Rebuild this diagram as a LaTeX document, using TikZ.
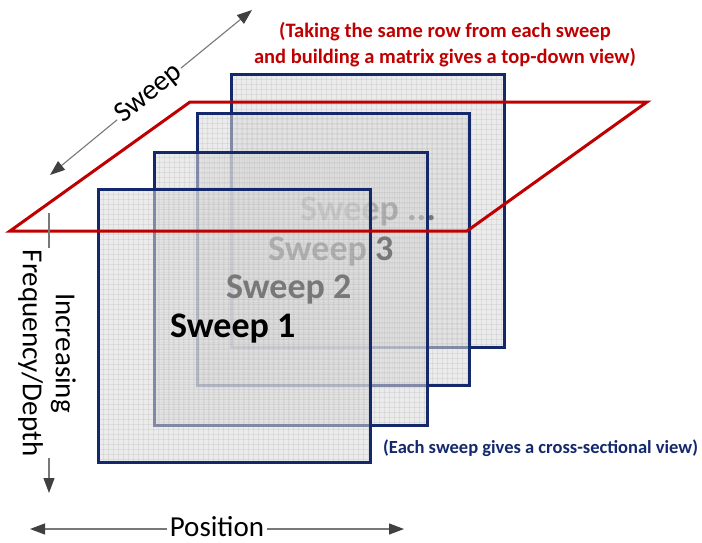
\documentclass[tikz,border=0pt]{standalone}
\usepackage{fontspec}
\setmainfont{Carlito}
\usetikzlibrary{arrows.meta}

\definecolor{navy}{RGB}{20,40,108}
\definecolor{planered}{RGB}{192,0,0}
\definecolor{sheetgray}{RGB}{220,220,220}
\definecolor{axisgray}{RGB}{120,120,120}
\definecolor{headgray}{RGB}{64,64,64}

\tikzset{
  sheetfill/.style={fill=sheetgray, fill opacity=0.55},
  gridline/.style={draw=gray, line width=0.35pt, opacity=0.12},
  sheetedge/.style={draw=navy, line width=3pt},
  sheetlabel/.style={anchor=base west, inner sep=0pt, text=black,
    font=\fontsize{36}{40}\selectfont\bfseries},
  planeedge/.style={draw=planered, line width=3pt, line join=miter},
  axislabel/.style={inner sep=2pt, text=black, font=\fontsize{29}{33}\selectfont},
  axisline/.style={draw=axisgray, line width=1.1pt},
  axisarrow/.style={axisline, -{Triangle[length=15pt,width=11pt,color=headgray]}},
  notered/.style={text=planered, align=center, inner sep=0pt,
    font=\fontsize{20.5}{26}\selectfont\bfseries},
  noteblue/.style={text=navy, inner sep=0pt, anchor=base west,
    font=\fontsize{18.5}{22}\selectfont\bfseries}
}

% one semi-transparent gridded sheet with its navy frame
\newcommand\sweepsheet[4]{%
  \fill[sheetfill] (#1,#2) rectangle (#3,#4);
  \foreach \k in {5,10,...,270} {
    \draw[gridline] ({#1+\k},#2) -- ({#1+\k},#4);
    \draw[gridline] (#1,{#2+\k}) -- (#3,{#2+\k});
  }
  \draw[sheetedge] (#1,#2) rectangle (#3,#4);
}

\begin{document}
\begin{tikzpicture}[x=1pt,y=-1pt]
  \fill[white] (0,0) rectangle (702,542);
  \useasboundingbox (0,0) rectangle (702,542);

  % sheets, drawn from the back to the front
  \sweepsheet{231}{74}{504}{347}
  \node[sheetlabel] (s4) at (300,220) {Sweep ...};
  \sweepsheet{197}{113}{469}{385}
  \node[sheetlabel] (s3) at (268,260) {Sweep 3};
  \sweepsheet{154}{152}{427}{425}
  \node[sheetlabel] (s2) at (226,298) {Sweep 2};
  \sweepsheet{98}{189}{370}{462}
  \node[sheetlabel] (s1) at (170,337) {Sweep 1};

  % the plane through one row of every sweep
  \draw[planeedge] (10,231) -- (190,102) -- (647,102) -- (467,231) -- cycle;

  % sweep axis
  \coordinate (sweepLo) at (50,175);
  \coordinate (sweepHi) at (252,10);
  \node[axislabel, rotate=39] (sweepLbl) at (149,94) {Sweep};
  \draw[axisarrow] (sweepLbl.east) -- (sweepHi);
  \draw[axisarrow] (sweepLbl.west) -- (sweepLo);

  % frequency / depth axis
  \coordinate (depthTop) at (49,213);
  \coordinate (depthEnd) at (49,493);
  \node[axislabel, rotate=-90, align=center] (depthLbl) at (47,353) {Increasing\\Frequency/Depth};
  \draw[axisline] (depthTop) -- (depthTop |- depthLbl.west);
  \draw[axisarrow] (depthTop |- depthLbl.east) -- (depthEnd);

  % position axis
  \coordinate (posL) at (30,529);
  \coordinate (posR) at (404,529);
  \node[axislabel, anchor=base, inner sep=0pt] (posLbl) at (217,536) {Position};
  \draw[axisarrow] ([xshift=-3pt]posLbl.west |- posL) -- (posL);
  \draw[axisarrow] ([xshift=3pt]posLbl.east |- posR) -- (posR);

  % notes
  \node[notered, anchor=north] (topNote) at (445,22)
    {(Taking the same row from each sweep\\and building a matrix gives a top-down view)};
  \node[noteblue] (sideNote) at (383,453) {(Each sweep gives a cross-sectional view)};
\end{tikzpicture}
\end{document}
